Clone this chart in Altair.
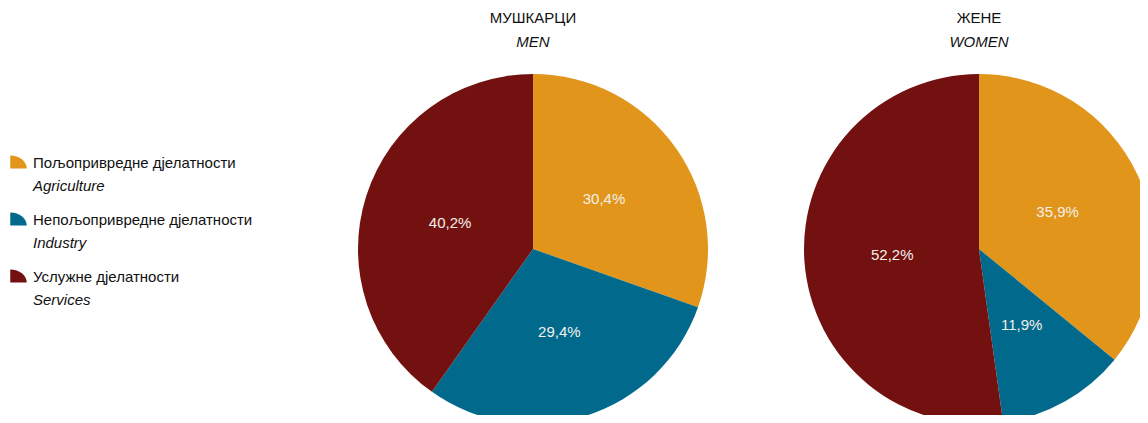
import altair as alt
import pandas as pd

sexes = ["МУШКАРЦИ", "ЖЕНЕ"]
sexes_en = ["MEN", "WOMEN"]
sectors = ["Пољопривредне дјелатности", "Непољопривредне дјелатности", "Услужне дјелатности"]
sectors_en = ["Agriculture", "Industry", "Services"]
men = [30.4, 29.4, 40.2]
women = [35.9, 11.9, 52.2]
colors = ["#E1961B", "#00698C", "#731110"]

FONT = "Liberation Sans"

rows = []
for s, vals in zip(sexes, [men, women]):
    for i, (sec, v) in enumerate(zip(sectors, vals)):
        rows.append({"sex": s, "sector": sec, "order": i, "value": v,
                     "label": f"{v:.1f}".replace(".", ",") + "%"})
df = pd.DataFrame(rows)
titles = pd.DataFrame({"sex": sexes, "en": sexes_en})
leg = pd.DataFrame({"sector": sectors, "en": sectors_en})

xsc = alt.Scale(domain=sexes, type="point", range=[225, 671], padding=0)
tsc = alt.Scale(domain=[0, 100])
csc = alt.Scale(domain=sectors, range=colors)
CY = 241

base = alt.Chart(df).transform_stack(
    stack="value", groupby=["sex"], as_=["v0", "v1"], sort=[alt.SortField("order")]
)
arcs = base.mark_arc(radius=175, clip=True).encode(
    x=alt.X("sex:N", scale=xsc, axis=None),
    y=alt.value(CY),
    theta=alt.Theta("v0:Q", scale=tsc, stack=None),
    theta2="v1:Q",
    color=alt.Color("sector:N", scale=csc, legend=None),
)
labels = base.transform_calculate(mid="(datum.v0 + datum.v1) / 2").mark_text(
    radius=87, fontSize=15, color="#f4f0ea", font=FONT
).encode(
    x=alt.X("sex:N", scale=xsc, axis=None),
    y=alt.value(CY),
    theta=alt.Theta("mid:Q", scale=tsc, stack=None),
    text="label:N",
)
t1 = alt.Chart(titles).mark_text(fontSize=15, font=FONT, color="#111", baseline="alphabetic").encode(
    x=alt.X("sex:N", scale=xsc, axis=None), y=alt.value(14.5), text="sex:N"
)
t2 = alt.Chart(titles).mark_text(fontSize=15, font=FONT, fontStyle="italic", color="#111", baseline="alphabetic").encode(
    x=alt.X("sex:N", scale=xsc, axis=None), y=alt.value(38.5), text="en:N"
)
pies = alt.layer(arcs, labels, t1, t2).properties(width=832, height=407)

ysc = alt.Scale(domain=sectors, type="point", range=[160, 274], padding=0)
shape = "M-1,0.8 L-1,-0.8 A2,1.6 0 0,1 1,0.8 Z"
sym = alt.Chart(leg).mark_point(shape=shape, filled=True, size=272, opacity=1, yOffset=-6).encode(
    x=alt.value(10.5), y=alt.Y("sector:N", scale=ysc, axis=None),
    color=alt.Color("sector:N", scale=csc, legend=None),
)
l1 = alt.Chart(leg).mark_text(align="left", baseline="alphabetic", fontSize=15, font=FONT, color="#111").encode(
    x=alt.value(25), y=alt.Y("sector:N", scale=ysc, axis=None), text="sector:N"
)
l2 = alt.Chart(leg).mark_text(align="left", baseline="alphabetic", fontSize=15, font=FONT, fontStyle="italic", color="#111", dy=23).encode(
    x=alt.value(25), y=alt.Y("sector:N", scale=ysc, axis=None), text="en:N"
)
legend = alt.layer(sym, l1, l2).properties(width=300, height=407)

chart = alt.hconcat(legend, pies, spacing=0, padding=0).configure_view(stroke=None)
chart.save("out.html", embed_options={"renderer": "svg", "actions": False})
